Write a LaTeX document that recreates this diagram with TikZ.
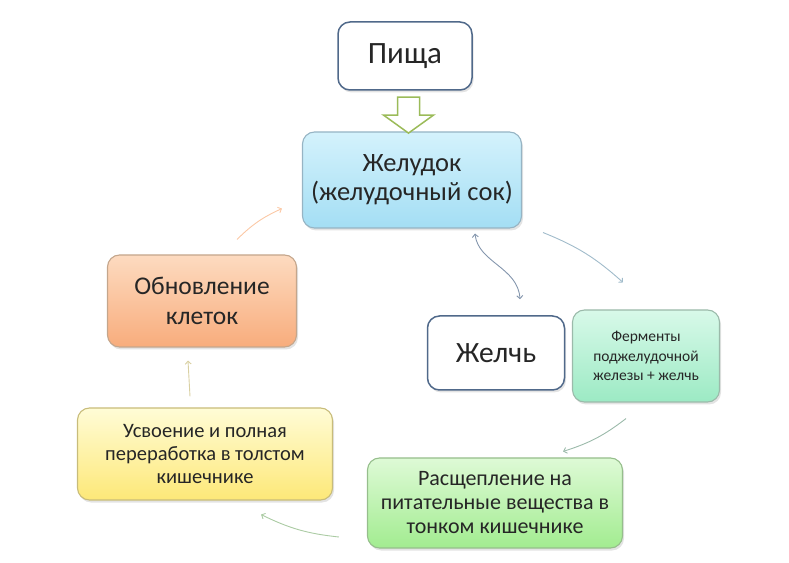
\documentclass[tikz,border=0pt]{standalone}
\usepackage{fontspec}
\setmainfont{Carlito}
\usepackage{tikz}
\definecolor{tx}{RGB}{38, 38, 38}
\definecolor{bd}{RGB}{80, 105, 138}
\definecolor{olive}{RGB}{155, 187, 89}
\definecolor{bluetop}{RGB}{212, 242, 252}
\definecolor{bluebot}{RGB}{164, 222, 244}
\definecolor{bluebd}{RGB}{150, 180, 196}
\definecolor{orgtop}{RGB}{253, 219, 192}
\definecolor{orgbot}{RGB}{248, 172, 124}
\definecolor{orgbd}{RGB}{196, 166, 140}
\definecolor{mnttop}{RGB}{216, 249, 233}
\definecolor{mntbot}{RGB}{156, 234, 196}
\definecolor{mntbd}{RGB}{155, 186, 170}
\definecolor{yeltop}{RGB}{255, 252, 214}
\definecolor{yelbot}{RGB}{253, 232, 120}
\definecolor{yelbd}{RGB}{200, 188, 122}
\definecolor{grntop}{RGB}{222, 250, 214}
\definecolor{grnbot}{RGB}{162, 236, 144}
\definecolor{grnbd}{RGB}{150, 190, 140}
\usetikzlibrary{positioning}
\usetikzlibrary{calc}
\usetikzlibrary{shadows}
\usetikzlibrary{arrows.meta}

\begin{document}
\begin{tikzpicture}
			[x=1pt, y=1pt, every node/.style={inner sep=0pt, align=center, text=tx},
			box/.style={rounded corners=12pt, line width=1.1pt,
				drop shadow={opacity=0.22, shadow xshift=1.5pt, shadow yshift=-2.5pt}},
			conn/.style={line width=0.9pt, -{Straight Barb[length=3pt, width=6pt]}}]
			\useasboundingbox (0, 0) rectangle (789, 562);
			\node (food) [box, draw=bd, line width=1.5pt, fill=white, minimum width=134pt, minimum height=68pt, font=\fontsize{31}{34}\selectfont] at (405, 506) {Пища};
			\node (stomach) [box, draw=bluebd, top color=bluetop, bottom color=bluebot, minimum width=219pt, minimum height=96pt, font=\fontsize{26.5}{29}\selectfont] at (412, 382) {Желудок\\(желудочный сок)};
			\node (renew) [box, draw=orgbd, top color=orgtop, bottom color=orgbot, minimum width=189pt, minimum height=92pt, font=\fontsize{25.5}{30}\selectfont] at (202, 261) {Обновление\\клеток};
			\node (bile) [box, draw=bd, line width=1.5pt, fill=white, minimum width=137pt, minimum height=74pt, font=\fontsize{29.5}{32}\selectfont] at (496, 209) {Желчь};
			\node (enzymes) [box, draw=mntbd, top color=mnttop, bottom color=mntbot, minimum width=147pt, minimum height=92pt, font=\fontsize{15.5}{19.5}\selectfont] at (646, 206) {Ферменты\\поджелудочной\\железы + желчь};
			\node (absorb) [box, draw=yelbd, top color=yeltop, bottom color=yelbot, minimum width=255pt, minimum height=92pt, font=\fontsize{20.5}{23}\selectfont] at (205, 108) {Усвоение и полная\\переработка в толстом\\кишечнике};
			\node (split) [box, draw=grnbd, top color=grntop, bottom color=grnbot, minimum width=255pt, minimum height=90pt, font=\fontsize{22}{24}\selectfont] at (495, 59) {Расщепление на\\питательные вещества в\\тонком кишечнике};
			% hollow arrow
			\coordinate (gap) at ($(food.south)!0.5!(stomach.north)$);
			\draw [line width=1.5pt, draw=olive, fill=white, line join=miter]
				($(gap)+(-11, 14)$) -- ($(gap)+(11, 14)$) -- ($(gap)+(11, -4)$) -- ($(gap)+(25, -4)$)
				-- ($(gap)+(0, -22)$) -- ($(gap)+(-25, -4)$) -- ($(gap)+(-11, -4)$) -- cycle;
			\draw [conn, color=orgtop!60!orgbot] ([shift={(35, 15)}]renew.north) to [bend left=10] ([shift={(-20, 20)}]stomach.south west);
			\draw [conn, color=yelbd!70!white] ([shift={(-15, 11)}]absorb.north) to ([shift={(-14, -13)}]renew.south);
			\draw [line width=0.9pt, {Straight Barb[length=3pt, width=6pt]}-{Straight Barb[length=3pt, width=6pt]}, color=bd!70!white]
				([shift={(63, -5)}]stomach.south) .. controls ([shift={(66, -34)}]stomach.south) and ([shift={(22, 48)}]bile.north) .. ([shift={(24, 16)}]bile.north);
			\draw [conn, color=bluebd!90!white] ([shift={(21, -4)}]stomach.south east) to [bend left=10] ([shift={(-23, 27)}]enzymes.north);
			\draw [conn, color=mntbd] ([shift={(-20, -16)}]enzymes.south) to [bend left=10] ([shift={(-60, 6)}]split.north east);
			\draw [conn, color=grnbd!80!white] ([shift={(-28, -34)}]split.west) to [bend left=10] ([shift={(-72, -14)}]absorb.south east);
	\end{tikzpicture}
\end{document}
